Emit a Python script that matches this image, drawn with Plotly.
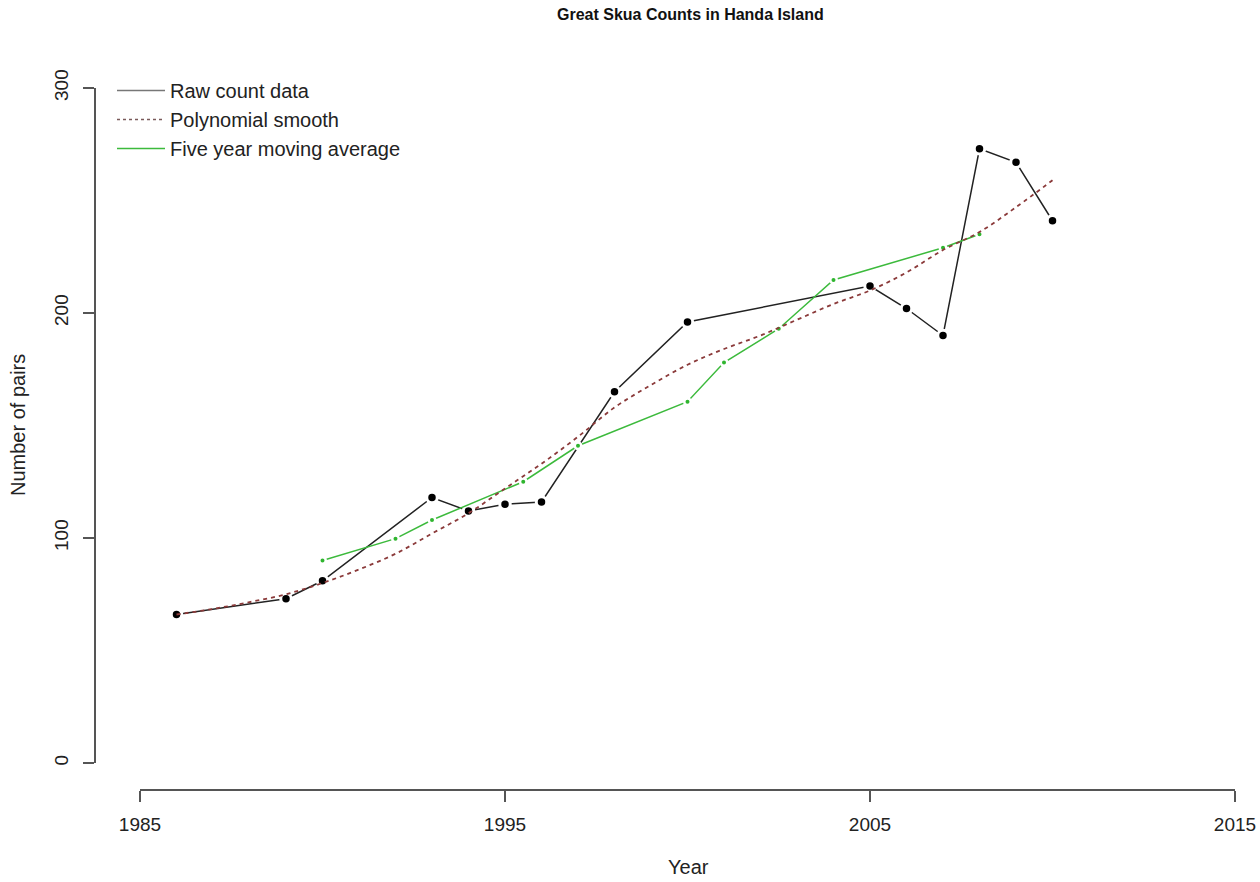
import plotly.graph_objects as go

# ---- data ----
raw_years = [1986, 1989, 1990, 1993, 1994, 1995, 1996, 1998, 2000, 2005, 2006, 2007, 2008, 2009, 2010]
raw_counts = [66, 73, 81, 118, 112, 115, 116, 165, 196, 212, 202, 190, 273, 267, 241]

ma_years = [1990, 1992, 1993, 1995.5, 1997, 2000, 2001, 2002.5, 2004, 2007, 2008]
ma_values = [90, 99.7, 108, 125, 141, 160.6, 178, 193, 214.7, 229, 235]

poly_years = list(range(1986, 2011))
poly_values = [66, 68.5, 71.5, 75, 80, 86, 93, 102, 111, 122, 133, 145, 158, 168, 177,
               184, 190, 197, 204, 210, 218, 228, 236, 247, 259]

x_ticks = [1985, 1995, 2005, 2015]
y_ticks = [0, 100, 200, 300]

FONT = "Liberation Sans, Arial, sans-serif"
W, H = 1260, 882
L, R, T, B = 95, 25, 88, 92
PW, PH = W - L - R, H - T - B

def px_x(p):
    return (p - L) / PW

def px_y(p):
    return (H - B - p) / PH

fig = go.Figure()

# raw line
fig.add_trace(go.Scatter(x=raw_years, y=raw_counts, mode="lines",
                         line=dict(color="#222222", width=1.5),
                         name="Raw count data", showlegend=False))
# raw markers with white ring (R type="b" gaps)
fig.add_trace(go.Scatter(x=raw_years, y=raw_counts, mode="markers",
                         marker=dict(color="black", size=10.5, line=dict(color="white", width=3)),
                         showlegend=False, hoverinfo="skip"))
# moving average
fig.add_trace(go.Scatter(x=ma_years, y=ma_values, mode="lines",
                         line=dict(color="#3cba3c", width=1.5), showlegend=False))
fig.add_trace(go.Scatter(x=ma_years, y=ma_values, mode="markers",
                         marker=dict(color="#2fb52f", size=6.5, line=dict(color="white", width=2.5)),
                         showlegend=False, hoverinfo="skip"))
# polynomial smooth
fig.add_trace(go.Scatter(x=poly_years, y=poly_values, mode="lines", line_shape="spline",
                         line=dict(color="#8b3a3a", width=1.8, dash="4px,4px"),
                         showlegend=False))

# legend-only entries
fig.add_trace(go.Scatter(x=[None], y=[None], mode="lines",
                         line=dict(color="#777777", width=1.5), name="Raw count data"))
fig.add_trace(go.Scatter(x=[None], y=[None], mode="lines",
                         line=dict(color="#7a5a5a", width=1.5, dash="3px,3px"), name="Polynomial smooth"))
fig.add_trace(go.Scatter(x=[None], y=[None], mode="lines",
                         line=dict(color="#3cba3c", width=1.5), name="Five year moving average"))

axis_common = dict(showgrid=False, zeroline=False, showline=True, linecolor="#555555", linewidth=1.5,
                   ticks="outside", ticklen=11, tickwidth=1.5, tickcolor="#555555", automargin=False,
                   tickfont=dict(family=FONT, size=19, color="#222222"), anchor="free", position=0)

fig.update_layout(
    width=W, height=H,
    margin=dict(l=L, r=R, t=T, b=B),
    plot_bgcolor="white", paper_bgcolor="white",
    xaxis=dict(range=[1985, 2015], domain=[px_x(140), 1], tickvals=x_ticks,
               ticklabelstandoff=6, **axis_common),
    yaxis=dict(range=[0, 300], domain=[px_y(763), 1], tickvals=y_ticks, tickangle=-90,
               ticklabelstandoff=8, **axis_common),
    legend=dict(x=px_x(112), y=px_y(71), xanchor="left", yanchor="top",
                font=dict(family=FONT, size=20, color="#222222"),
                bgcolor="rgba(0,0,0,0)", borderwidth=0, tracegroupgap=0, itemwidth=48),
    showlegend=True,
    annotations=[
        dict(text="<b>Great Skua Counts in Handa Island</b>", x=px_x(690), y=px_y(14),
             xref="paper", yref="paper", showarrow=False, xanchor="center", yanchor="middle",
             font=dict(family=FONT, size=16, color="#111111")),
        dict(text="Year", x=px_x(688), y=px_y(867), xref="paper", yref="paper",
             showarrow=False, xanchor="center", yanchor="middle",
             font=dict(family=FONT, size=20, color="#222222")),
        dict(text="Number of pairs", x=px_x(18), y=px_y(425), xref="paper", yref="paper",
             showarrow=False, xanchor="center", yanchor="middle", textangle=-90,
             font=dict(family=FONT, size=20, color="#222222")),
    ],
)

fig.write_html("out.html", config={"displayModeBar": False},
               post_script="document.body.style.margin='0';document.body.style.overflow='hidden';")
